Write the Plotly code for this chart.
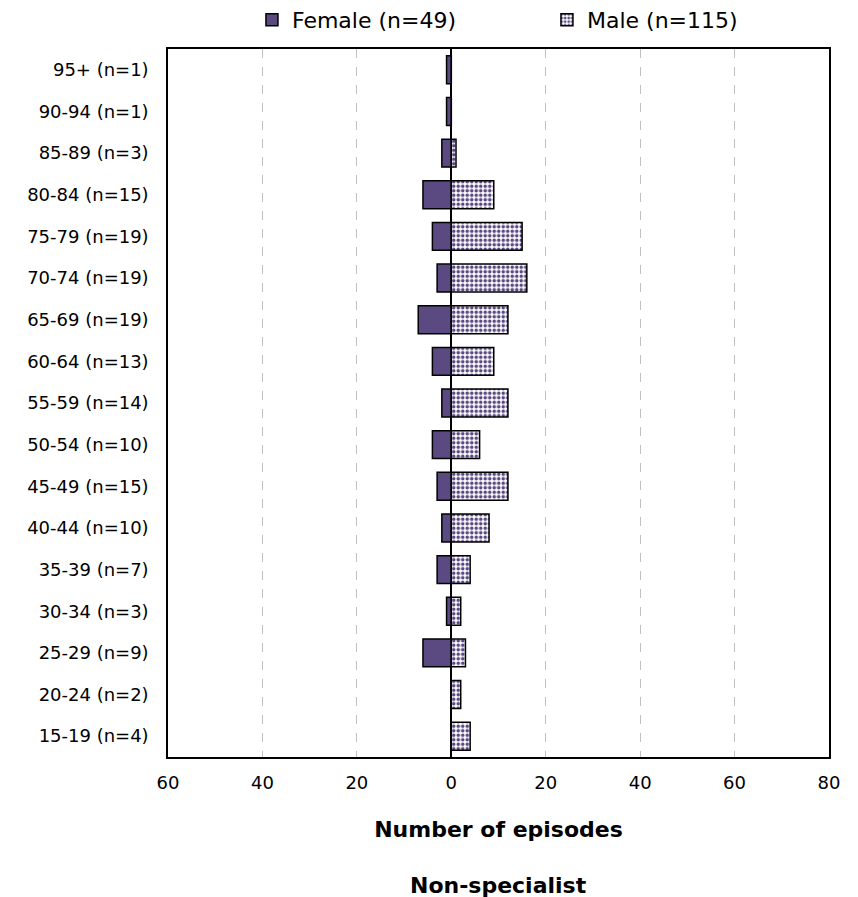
import plotly.graph_objects as go

categories = ["95+ (n=1)", "90-94 (n=1)", "85-89 (n=3)", "80-84 (n=15)", "75-79 (n=19)",
              "70-74 (n=19)", "65-69 (n=19)", "60-64 (n=13)", "55-59 (n=14)", "50-54 (n=10)",
              "45-49 (n=15)", "40-44 (n=10)", "35-39 (n=7)", "30-34 (n=3)", "25-29 (n=9)",
              "20-24 (n=2)", "15-19 (n=4)"]
female = [1, 1, 2, 6, 4, 3, 7, 4, 2, 4, 3, 2, 3, 1, 6, 0, 0]
male = [0, 0, 1, 9, 15, 16, 12, 9, 12, 6, 12, 8, 4, 2, 3, 2, 4]
tick_vals = [-60, -40, -20, 0, 20, 40, 60, 80]
tick_text = ["60", "40", "20", "0", "20", "40", "60", "80"]

purple = "#5B4A82"
font_family = "DejaVu Sans, sans-serif"

fig = go.Figure()
fig.add_trace(go.Bar(
    y=categories, x=[-v for v in female], orientation="h",
    name="Female (n=49)",
    marker=dict(color=purple, line=dict(color="black", width=1.5)),
))
fig.add_trace(go.Bar(
    y=categories, x=male, orientation="h",
    name="Male (n=115)",
    marker=dict(color="white", line=dict(color="black", width=1.5),
                pattern=dict(shape=".", fgcolor=purple, bgcolor="white", size=4.5, solidity=0.5, fillmode="replace")),
))

fig.update_layout(
    width=850, height=889,
    barmode="relative", bargap=0.33,
    plot_bgcolor="white", paper_bgcolor="white",
    margin=dict(l=160, r=29, t=41, b=140, autoexpand=False),
    font=dict(family=font_family, size=18, color="black"),
    legend=dict(orientation="h", x=0.287, xanchor="left", xref="container",
                y=1.041, yanchor="middle", yref="paper", bgcolor="rgba(0,0,0,0)",
                font=dict(size=22), entrywidth=250, itemwidth=30),
    xaxis=dict(range=[-60, 80], tickvals=tick_vals, ticktext=tick_text,
               showgrid=True, gridcolor="#C0C0C0", griddash="dash", gridwidth=1,
               zeroline=True, zerolinecolor="black", zerolinewidth=1.5,
               showline=True, linecolor="black", linewidth=1.5, mirror=True,
               ticks="", ticklabelstandoff=9, automargin=False,
               title=dict(text="<b>Number of episodes</b>", font=dict(size=22), standoff=29)),
    yaxis=dict(categoryorder="array", categoryarray=categories[::-1],
               showline=True, linecolor="black", linewidth=1.5, mirror=True,
               ticks="", ticklabelstandoff=14, showgrid=False, automargin=False),
    annotations=[dict(text="<b>Non-specialist</b>", x=0.5, xref="paper", y=-0.182, yref="paper",
                      xanchor="center", yanchor="middle", showarrow=False, font=dict(size=22))],
)

fig.write_html("out.html")
